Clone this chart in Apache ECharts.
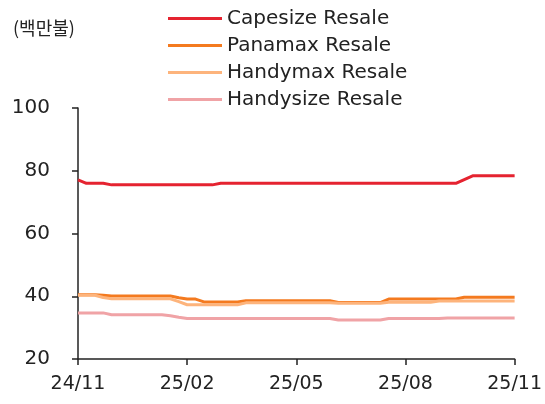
<!DOCTYPE html>
<html>
<head>
<meta charset="utf-8">
<script src="https://cdn.jsdelivr.net/npm/echarts@6/dist/echarts.min.js"></script>
<style>
  html, body { margin: 0; padding: 0; background: #fff; }
  #main { width: 545px; height: 404px; }
</style>
</head>
<body>
<div id="main"></div>
<script>
// 주간 데이터 (24/11 ~ 25/11)
var weeks = [
  '2024-11-01', '2024-11-08', '2024-11-15', '2024-11-22', '2024-11-29',
  '2024-12-06', '2024-12-13', '2024-12-20', '2024-12-27',
  '2025-01-03', '2025-01-10', '2025-01-17', '2025-01-24', '2025-01-31',
  '2025-02-07', '2025-02-14', '2025-02-21', '2025-02-28',
  '2025-03-07', '2025-03-14', '2025-03-21', '2025-03-28',
  '2025-04-04', '2025-04-11', '2025-04-18', '2025-04-25',
  '2025-05-02', '2025-05-09', '2025-05-16', '2025-05-23', '2025-05-30',
  '2025-06-06', '2025-06-13', '2025-06-20', '2025-06-27',
  '2025-07-04', '2025-07-11', '2025-07-18', '2025-07-25',
  '2025-08-01', '2025-08-08', '2025-08-15', '2025-08-22', '2025-08-29',
  '2025-09-05', '2025-09-12', '2025-09-19', '2025-09-26',
  '2025-10-03', '2025-10-10', '2025-10-17', '2025-10-24', '2025-10-31'
];
var tickLabels = ['24/11', '25/02', '25/05', '25/08', '25/11'];

var capesize = [
  77.1, 76.0, 76.0, 76.0, 75.5, 75.5, 75.5, 75.5, 75.5, 75.5,
  75.5, 75.5, 75.5, 75.5, 75.5, 75.5, 75.5, 76.0, 76.0, 76.0,
  76.0, 76.0, 76.0, 76.0, 76.0, 76.0, 76.0, 76.0, 76.0, 76.0,
  76.0, 76.0, 76.0, 76.0, 76.0, 76.0, 76.0, 76.0, 76.0, 76.0,
  76.0, 76.0, 76.0, 76.0, 76.0, 76.0, 77.2, 78.4, 78.4, 78.4,
  78.4, 78.4, 78.4
];
var panamax = [
  40.5, 40.5, 40.5, 40.3, 40.1, 40.1, 40.1, 40.1, 40.1, 40.1,
  40.1, 40.1, 39.5, 39.1, 39.1, 38.2, 38.2, 38.2, 38.2, 38.2,
  38.6, 38.6, 38.6, 38.6, 38.6, 38.6, 38.6, 38.6, 38.6, 38.6,
  38.6, 38.0, 38.0, 38.0, 38.0, 38.0, 38.0, 39.1, 39.1, 39.1,
  39.1, 39.1, 39.1, 39.1, 39.1, 39.1, 39.7, 39.7, 39.7, 39.7,
  39.7, 39.7, 39.7
];
var handymax = [
  40.3, 40.3, 40.3, 39.6, 39.2, 39.2, 39.2, 39.2, 39.2, 39.2,
  39.2, 39.2, 38.3, 37.3, 37.3, 37.3, 37.3, 37.3, 37.3, 37.3,
  37.9, 37.9, 37.9, 37.9, 37.9, 37.9, 37.9, 37.9, 37.9, 37.9,
  37.9, 37.8, 37.8, 37.8, 37.8, 37.8, 37.8, 38.1, 38.1, 38.1,
  38.1, 38.1, 38.1, 38.5, 38.5, 38.5, 38.5, 38.5, 38.5, 38.5,
  38.5, 38.5, 38.5
];
var handysize = [
  34.7, 34.7, 34.7, 34.7, 34.1, 34.1, 34.1, 34.1, 34.1, 34.1,
  34.1, 33.8, 33.3, 32.9, 32.9, 32.9, 32.9, 32.9, 32.9, 32.9,
  32.9, 32.9, 32.9, 32.9, 32.9, 32.9, 32.9, 32.9, 32.9, 32.9,
  32.9, 32.4, 32.4, 32.4, 32.4, 32.4, 32.4, 32.9, 32.9, 32.9,
  32.9, 32.9, 32.9, 32.9, 33.1, 33.1, 33.1, 33.1, 33.1, 33.1,
  33.1, 33.1, 33.1
];

var font = '"DejaVu Sans", sans-serif';
var axisColor = '#222';

function mkLine(name, data, color) {
  return {
    name: name,
    type: 'line',
    data: data,
    symbol: 'none',
    lineStyle: { width: 3, color: color },
    itemStyle: { color: color }
  };
}

var dom = document.getElementById('main');
var myChart = echarts.init(dom, null, { renderer: 'canvas' });

var option = {
  animation: false,
  backgroundColor: '#fff',
  title: {
    text: '(백만불)',
    left: 8,
    top: 14,
    textStyle: {
      fontFamily: '"Noto Sans CJK KR", sans-serif',
      fontSize: 18,
      fontWeight: 'normal',
      color: '#222'
    }
  },
  legend: {
    orient: 'vertical',
    left: 163,
    top: 3,
    itemWidth: 54,
    itemHeight: 3,
    itemGap: 6,
    icon: 'rect',
    textStyle: {
      fontFamily: font,
      fontSize: 20,
      color: '#222',
      lineHeight: 21
    },
    data: ['Capesize Resale', 'Panamax Resale', 'Handymax Resale', 'Handysize Resale']
  },
  grid: {
    left: 78,
    right: 30,
    top: 108,
    bottom: 45,
    containLabel: false
  },
  xAxis: {
    type: 'category',
    data: weeks,
    boundaryGap: false,
    axisLine: { lineStyle: { color: axisColor, width: 1.5 } },
    axisTick: { interval: 12, length: 6, lineStyle: { color: axisColor, width: 1.5 } },
    axisLabel: {
      interval: 12,
      margin: 16,
      fontFamily: font,
      fontSize: 19,
      color: '#222',
      formatter: function (val, idx) {
        return tickLabels[Math.round(idx / 13)];
      }
    },
    splitLine: { show: false }
  },
  yAxis: {
    type: 'value',
    min: 20,
    max: 100,
    interval: 20,
    axisLine: { show: true, lineStyle: { color: axisColor, width: 1.5 } },
    axisTick: { show: true, length: 6, lineStyle: { color: axisColor, width: 1.5 } },
    axisLabel: {
      margin: 28,
      fontFamily: font,
      fontSize: 20,
      color: '#222'
    },
    splitLine: { show: false }
  },
  series: [
    mkLine('Capesize Resale', capesize, '#E52330'),
    mkLine('Panamax Resale', panamax, '#F47A1F'),
    mkLine('Handymax Resale', handymax, '#FDB47C'),
    mkLine('Handysize Resale', handysize, '#F0A3A6')
  ]
};

myChart.setOption(option);
window.addEventListener('resize', myChart.resize);
</script>
</body>
</html>
